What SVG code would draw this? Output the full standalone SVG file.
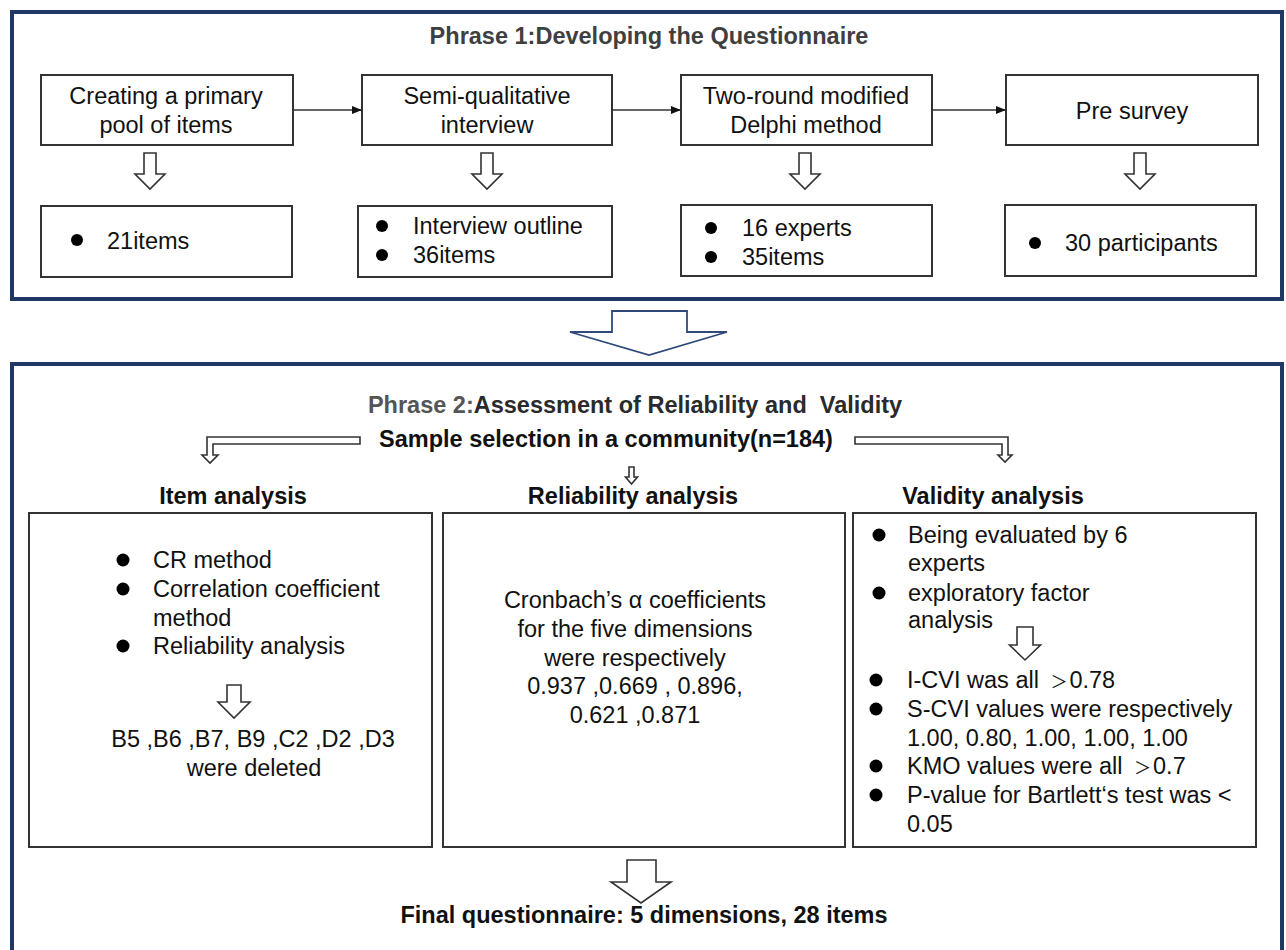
<svg xmlns="http://www.w3.org/2000/svg" width="1286" height="950" viewBox="0 0 1286 950">
<style>
  text { font-family: "Liberation Sans", Arial, "Noto Sans CJK SC", sans-serif; font-size: 23.5px; fill: #111; }
  .b { font-weight: bold; }
  .mid { text-anchor: middle; }
  .title { font-weight: bold; fill: #3f3f3f; }
  .gt { font-size: 17px; }
  .frame { fill: #fff; stroke: #1f3864; stroke-width: 4; }
  .box { fill: #fff; stroke: #333; stroke-width: 2; }
  .hollow { fill: #fff; stroke: #333; stroke-width: 1.6; stroke-linejoin: miter; }
  .big { fill: #fff; stroke: #2f4a7a; stroke-width: 1.8; }
  .conn { stroke: #333; stroke-width: 1.5; fill: none; }
  .dot { fill: #000; }
</style>
<defs>
  <marker id="ah" markerWidth="10" markerHeight="8" refX="10" refY="4" orient="auto" markerUnits="userSpaceOnUse">
    <path d="M0,0 L10,4 L0,8 Z" fill="#111"/>
  </marker>
</defs>
<rect width="1286" height="950" fill="#fff"/>

<g id="phase1">
  <rect class="frame" x="12" y="12" width="1270" height="287"/>
  <text class="title mid" x="649" y="44">Phrase 1:Developing the Questionnaire</text>
</g>

<g id="n-create">
  <rect class="box" x="41" y="75" width="252" height="70"/>
  <text class="mid" x="166" y="104">Creating a primary</text>
  <text class="mid" x="166" y="133">pool of items</text>
</g>
<g id="n-semi">
  <rect class="box" x="362" y="75" width="250" height="70"/>
  <text class="mid" x="487" y="104">Semi-qualitative</text>
  <text class="mid" x="487" y="133">interview</text>
</g>
<g id="n-delphi">
  <rect class="box" x="681" y="75" width="251" height="70"/>
  <text class="mid" x="806" y="104">Two-round modified</text>
  <text class="mid" x="806" y="133">Delphi method</text>
</g>
<g id="n-pre">
  <rect class="box" x="1006" y="75" width="252" height="70"/>
  <text class="mid" x="1132" y="119">Pre survey</text>
</g>

<g id="r-create">
  <rect class="box" x="41" y="206" width="251" height="71"/>
  <circle class="dot" cx="77" cy="240" r="6"/>
  <text x="107" y="249">21items</text>
</g>
<g id="r-semi">
  <rect class="box" x="358" y="206" width="254" height="71"/>
  <circle class="dot" cx="382" cy="226" r="6"/>
  <circle class="dot" cx="382" cy="255" r="6"/>
  <text x="413" y="234">Interview outline</text>
  <text x="413" y="263">36items</text>
</g>
<g id="r-delphi">
  <rect class="box" x="681" y="205" width="251" height="71"/>
  <circle class="dot" cx="711" cy="228" r="6"/>
  <circle class="dot" cx="711" cy="257" r="6"/>
  <text x="742" y="236">16 experts</text>
  <text x="742" y="265">35items</text>
</g>
<g id="r-pre">
  <rect class="box" x="1005" y="205" width="251" height="71"/>
  <circle class="dot" cx="1035" cy="243" r="6"/>
  <text x="1065" y="251">30 participants</text>
</g>

<g id="phase2">
  <rect class="frame" x="12" y="364" width="1270" height="600"/>
  <text class="b mid" x="635" y="413"><tspan fill="#555">Phrase 2:</tspan><tspan fill="#2a2a2a">Assessment of Reliability and&#160; Validity</tspan></text>
  <text class="b mid" x="606" y="447">Sample selection in a community(n=184)</text>
</g>

<g id="n-item">
  <text class="b mid" x="233" y="504">Item analysis</text>
  <rect class="box" x="29" y="513" width="403" height="334"/>
  <circle class="dot" cx="123" cy="560" r="6.5"/>
  <circle class="dot" cx="123" cy="589" r="6.5"/>
  <circle class="dot" cx="123" cy="646" r="6.5"/>
  <text x="153" y="568">CR method</text>
  <text x="153" y="597">Correlation coefficient</text>
  <text x="153" y="626">method</text>
  <text x="153" y="654">Reliability analysis</text>
  <text class="mid" x="253" y="747">B5 ,B6 ,B7, B9 ,C2 ,D2 ,D3</text>
  <text class="mid" x="254" y="776">were deleted</text>
</g>
<g id="n-reliability">
  <text class="b mid" x="633" y="504">Reliability analysis</text>
  <rect class="box" x="443" y="513" width="402" height="334"/>
  <text class="mid" x="635" y="608">Cronbach’s α coefficients</text>
  <text class="mid" x="635" y="637">for the five dimensions</text>
  <text class="mid" x="635" y="666">were respectively</text>
  <text class="mid" x="635" y="694">0.937 ,0.669 , 0.896,</text>
  <text class="mid" x="635" y="723">0.621 ,0.871</text>
</g>
<g id="n-validity">
  <text class="b mid" x="993" y="504">Validity analysis</text>
  <rect class="box" x="853" y="513" width="403" height="334"/>
  <circle class="dot" cx="879" cy="535" r="6.5"/>
  <circle class="dot" cx="879" cy="593" r="6.5"/>
  <text x="908" y="543">Being evaluated by 6</text>
  <text x="908" y="571">experts</text>
  <text x="908" y="601">exploratory factor</text>
  <text x="908" y="628">analysis</text>
  <circle class="dot" cx="876" cy="680" r="6.5"/>
  <circle class="dot" cx="876" cy="709" r="6.5"/>
  <circle class="dot" cx="876" cy="766" r="6.5"/>
  <circle class="dot" cx="876" cy="795" r="6.5"/>
  <text x="907" y="688">I-CVI was all <tspan class="gt" dx="5">＞</tspan><tspan dx="2">0.78</tspan></text>
  <text x="907" y="717">S-CVI values were respectively</text>
  <text x="907" y="746">1.00, 0.80, 1.00, 1.00, 1.00</text>
  <text x="907" y="774">KMO values were all <tspan class="gt" dx="5">＞</tspan><tspan dx="2">0.7</tspan></text>
  <text x="907" y="803">P-value for Bartlett‘s test was &lt;</text>
  <text x="907" y="832">0.05</text>
</g>
<g id="n-final">
  <text class="b mid" x="644" y="923">Final questionnaire: 5 dimensions, 28 items</text>
</g>

<g id="connectors">
  <line class="conn" x1="293" y1="110" x2="362" y2="110" marker-end="url(#ah)"/>
  <line class="conn" x1="612" y1="110" x2="681" y2="110" marker-end="url(#ah)"/>
  <line class="conn" x1="932" y1="110" x2="1006" y2="110" marker-end="url(#ah)"/>

  <path class="hollow" d="M144,153 H156 V174 H165 L150,189 L135,174 H144 Z"/>
  <path class="hollow" d="M481,153 H493 V174 H502 L487,189 L472,174 H481 Z"/>
  <path class="hollow" d="M799,153 H811 V174 H820 L805,189 L790,174 H799 Z"/>
  <path class="hollow" d="M1134,153 H1146 V174 H1155 L1140,189 L1125,174 H1134 Z"/>

  <path class="big" d="M612,311 H687 V332 H727 L649,355 L570,332 H612 Z"/>

  <path class="hollow" d="M360,437 V444 H213 V455 H218 L210,463 L202,455 H207 V437 Z"/>
  <path class="hollow" d="M629,467 H634 V477 H637.5 L631.5,484 L625.5,477 H629 Z"/>
  <path class="hollow" d="M855,437 H1008 V455 H1012 L1005,462 L998,455 H1002 V444 H855 Z"/>

  <path class="hollow" d="M227,685 H241 V702 H250 L234,718 L218,702 H227 Z"/>
  <path class="hollow" d="M1017,627 H1033 V645 H1040.5 L1025,660 L1009.5,645 H1017 Z"/>

  <path class="hollow" d="M627,860 H656 V882 H671 L641,903 L611,882 H627 Z"/>
</g>
</svg>
